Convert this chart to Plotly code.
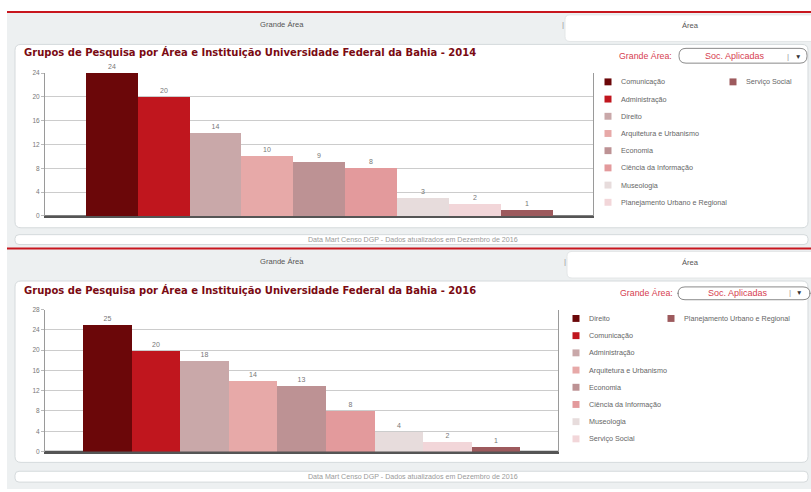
import plotly.graph_objects as go

W, H = 811, 492

# ---------------- data ----------------
areas_2014 = ["Comunicação", "Administração", "Direito", "Arquitetura e Urbanismo", "Economia",
              "Ciência da Informação", "Museologia", "Planejamento Urbano e Regional", "Serviço Social"]
grupos_2014 = [24, 20, 14, 10, 9, 8, 3, 2, 1]

areas_2016 = ["Direito", "Comunicação", "Administração", "Arquitetura e Urbanismo", "Economia",
              "Ciência da Informação", "Museologia", "Serviço Social", "Planejamento Urbano e Regional"]
grupos_2016 = [25, 20, 18, 14, 13, 8, 4, 2, 1]

bar_colors = ["#6b0709", "#c0161e", "#c9a8a9", "#e7a9a8", "#bd9294",
              "#e39a9c", "#e7dcdc", "#f2d6d9", "#9d5a5d"]

ticks_2014 = [0, 4, 8, 12, 16, 20, 24]
ticks_2016 = [0, 4, 8, 12, 16, 20, 24, 28]

title_2014 = "Grupos de Pesquisa por Área e Instituição Universidade Federal da Bahia - 2014"
title_2016 = "Grupos de Pesquisa por Área e Instituição Universidade Federal da Bahia - 2016"
footer_text = "Data Mart Censo DGP - Dados atualizados em Dezembro de 2016"


def px(x):
    return x / W


def py(y):
    return 1 - y / H


def rrect(x0, y0, x1, y1, r, fill, line="#d5dadc", lw=1):
    pts = [
        ("M", [(x0 + r, y0)]), ("L", [(x1 - r, y0)]), ("Q", [(x1, y0), (x1, y0 + r)]),
        ("L", [(x1, y1 - r)]), ("Q", [(x1, y1), (x1 - r, y1)]), ("L", [(x0 + r, y1)]),
        ("Q", [(x0, y1), (x0, y1 - r)]), ("L", [(x0, y0 + r)]), ("Q", [(x0, y0), (x0 + r, y0)]),
    ]
    p = ""
    for cmd, cs in pts:
        p += cmd + " " + " ".join(f"{px(a):.5f},{py(b):.5f}" for a, b in cs) + " "
    p += "Z"
    return dict(type="path", path=p, xref="paper", yref="paper", fillcolor=fill,
                line=dict(color=line, width=lw), layer="below")


def rect(x0, y0, x1, y1, fill):
    return dict(type="rect", xref="paper", yref="paper", x0=px(x0), x1=px(x1), y0=py(y1), y1=py(y0),
                fillcolor=fill, line=dict(width=0), layer="below")


def hline(x0, x1, y, color, w):
    return dict(type="line", xref="paper", yref="paper", x0=px(x0), x1=px(x1), y0=py(y), y1=py(y),
                line=dict(color=color, width=w), layer="below")


def text(x, y, s, size, color, anchor="center", font="Liberation Sans", bold=False):
    if bold:
        s = "<b>" + s + "</b>"
    return dict(x=px(x), y=py(y), xref="paper", yref="paper", text=s, showarrow=False,
                xanchor=anchor, yanchor="middle", font=dict(size=size, color=color, family=font),
                borderpad=0)


fig = go.Figure()

fig.add_trace(go.Bar(x=areas_2014, y=grupos_2014, marker=dict(color=bar_colors, line=dict(width=0)),
                     width=1, text=grupos_2014, textposition="outside", cliponaxis=False,
                     textfont=dict(size=7, color="#777777", family="Liberation Sans"),
                     xaxis="x", yaxis="y", showlegend=False, hoverinfo="x+y"))
fig.add_trace(go.Bar(x=areas_2016, y=grupos_2016, marker=dict(color=bar_colors, line=dict(width=0)),
                     width=1, text=grupos_2016, textposition="outside", cliponaxis=False,
                     textfont=dict(size=7, color="#777777", family="Liberation Sans"),
                     xaxis="x2", yaxis="y2", showlegend=False, hoverinfo="x+y"))

shapes = []
annotations = []

# page background
shapes.append(rect(7, 9, 811, 492, "#edf0f1"))

sections = [
    dict(top=0, title=title_2014, panel=(41, 227), footer=(234, 244), tab_x=565,
         gx=673, drop=(679, 807, 45, 60), soc=735, bar=788, arrow=798, ly=53, ty=49,
         leg_x1=608, leg_x2=733, leg_y0=79, names=areas_2014),
    dict(top=240, title=title_2016, panel=(281, 465), footer=(474, 485), tab_x=567,
         gx=674, drop=(678, 810, 287, 300), soc=738, bar=790, arrow=799, ly=293, ty=290,
         leg_x1=576, leg_x2=671, leg_y0=319, names=areas_2016),
]

for s in sections:
    t = s["top"]
    # red rule
    shapes.append(hline(7, 811, 8 + t, "#c8161e", 2))
    # right tab
    shapes.append(rrect(s["tab_x"], 11 + t, 830, 38 + t, 5, "#ffffff", line="#e3e6e7"))
    annotations.append(text(282, 21 + t, "Grande Área", 7.6, "#555555"))
    annotations.append(text(690, 22 + t, "Área", 7.6, "#555555"))
    annotations.append(text(s["tab_x"] - 2, 21 + t, "|", 8, "#999999"))
    # panel & footer
    shapes.append(rrect(15, s["panel"][0], 808, s["panel"][1], 6, "#ffffff"))
    shapes.append(rrect(15, s["footer"][0], 808, s["footer"][1], 4, "#ffffff"))
    annotations.append(text(413, (s["footer"][0] + s["footer"][1]) / 2, footer_text, 7.1, "#9a9a9a"))
    # title
    annotations.append(text(23, s["ty"], s["title"], 10, "#7a0a12", anchor="left",
                            font="DejaVu Sans", bold=True))
    # dropdown
    d = s["drop"]
    annotations.append(text(s["gx"], s["ly"], "Grande Área:", 8.8, "#d6404f", anchor="right"))
    shapes.append(rrect(d[0], d[2], d[1], d[3], 7, "#ffffff", line="#8a8a8a"))
    annotations.append(text(s["soc"], s["ly"], "Soc. Aplicadas", 9, "#d6404f"))
    annotations.append(text(s["bar"], s["ly"], "|", 8, "#999999"))
    annotations.append(text(s["arrow"], s["ly"], "▼", 6.5, "#333333"))
    # legend
    for i, name in enumerate(s["names"]):
        if i < 8:
            lx, ly = s["leg_x1"], s["leg_y0"] + i * 17.45
        else:
            lx, ly = s["leg_x2"], s["leg_y0"]
        shapes.append(dict(type="rect", xref="paper", yref="paper", x0=px(lx - 3.5), x1=px(lx + 3.5),
                           y0=py(ly + 3.5), y1=py(ly - 3.5), fillcolor=bar_colors[i],
                           line=dict(width=0), layer="below"))
        annotations.append(text(lx + 12, ly, name, 7.2, "#666666", anchor="left"))

# darker bottom axis lines
shapes.append(hline(45, 593, 215, "#555555", 1.5))
shapes.append(hline(45, 558, 454, "#555555", 1.5))

axis_common_y = dict(showgrid=True, gridcolor="#cccccc", gridwidth=1, zeroline=False, showline=True,
                     linecolor="#9a9a9a", linewidth=1, mirror=True, ticks="outside", ticklen=3,
                     tickcolor="#bbbbbb", tickfont=dict(size=6.5, color="#777777", family="Liberation Sans"),
                     fixedrange=True)
axis_common_x = dict(showticklabels=False, showgrid=False, zeroline=False, showline=True,
                     linecolor="#555555", linewidth=1.5, ticks="", range=[-1.29, 9.28], fixedrange=True)

fig.update_layout(
    width=W, height=H, margin=dict(l=0, r=0, t=0, b=0),
    paper_bgcolor="#ffffff", plot_bgcolor="#ffffff",
    bargap=0, showlegend=False,
    xaxis=dict(domain=[px(45), px(593)], anchor="y", **axis_common_x),
    yaxis=dict(domain=[py(215), py(70)], anchor="x", range=[0, 24], tickvals=ticks_2014, **axis_common_y),
    xaxis2=dict(domain=[px(45), px(558)], anchor="y2", **axis_common_x),
    yaxis2=dict(domain=[py(454), py(310)], anchor="x2", range=[0, 28], tickvals=ticks_2016, **axis_common_y),
    shapes=shapes, annotations=annotations,
)

fig.write_html("out.html", config={"displayModeBar": False},
               post_script="document.body.style.margin='0';document.body.style.padding='0';")
